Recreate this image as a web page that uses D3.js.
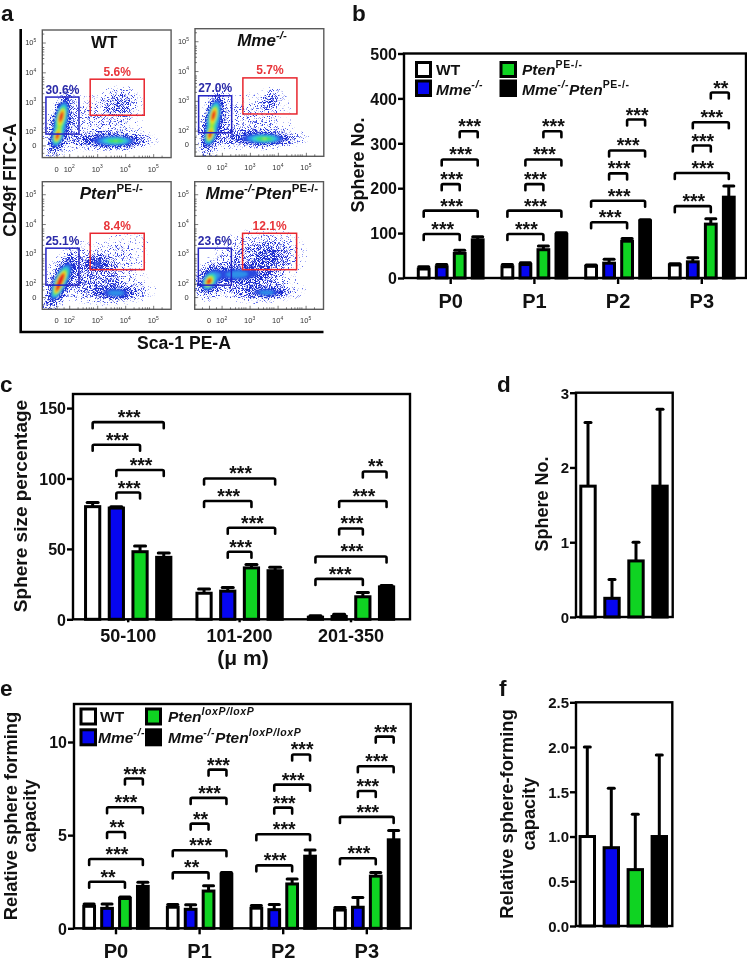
<!DOCTYPE html>
<html><head><meta charset="utf-8">
<script src="https://cdn.jsdelivr.net/npm/d3@7"></script>
<style>html,body{margin:0;padding:0;background:#fff}svg{display:block;filter:blur(.4px)}
text{font-family:"Liberation Sans",Arial,sans-serif;font-weight:bold;fill:#111}</style>
</head><body><svg id="c" width="747" height="962"></svg>
<script>
// ---------- data ----------
const seriesColors = ["#ffffff", "#0606f0", "#0fd322", "#000000"];
const passages = ["P0", "P1", "P2", "P3"];
const sizeBins = ["50-100", "101-200", "201-350"];
const single = ["all"];

const sphereMean = [[20,25,55,85],[25,30,63,97],[26,33,82,127],[29,36,120,180]];
const sphereTop  = [[25,30,62,92],[30,34,71,101],[29,42,88,130],[32,45,132,205]];
const sphereBrackets = [[98,150,209,264,327],[98,150,209,264,327],[124,172,233,284,353],[160,234,295,347,413]];
const sphereStars = [["***","***","***","***","***"],["***","***","***","***","***"],["***","***","***","***","***"],["***","***","***","***","**"]];

const sizeMean = [[80,79,48,44],[18.5,20,36.5,34.5],[1.5,2,16,23]];
const sizeTop  = [[83,80,52,47],[21.5,22.5,39,37],[2.5,3.5,19,24]];
const sizeBrackets = [[124,140,90,106,null],[84,100,48,65,null],[28.7,44.6,64.5,84,105]];
const sizeStars = [["***","***","***","***",""],["***","***","***","***",""],["***","***","***","***","**"]];

const relMean = [[1.18,1.07,1.6,2.25],[1.13,1.02,2.0,2.9],[1.08,1.0,2.38,3.87],[0.98,1.13,2.8,4.75]];
const relTop  = [[1.3,1.3,1.68,2.47],[1.28,1.26,2.28,3.0],[1.22,1.28,2.65,4.2],[1.12,1.65,3.0,5.25]];
const relBrackets = [[2.5,3.72,5.17,6.5,8.04],[3.0,4.19,5.62,7.0,8.52],[3.38,5.05,6.48,7.71,9.33],[3.76,5.98,7.37,8.7,10.29]];
const relStars = [["**","***","**","***","***"],["**","***","**","***","***"],["***","***","***","***","***"],["***","***","***","***","***"]];

const bracketPairs = [[0,2],[0,3],[1,2],[1,3],[2,3]];

const dMean = [[1.75,0.25,0.75,1.75]];
const dTop  = [[2.6,0.5,1.0,2.78]];
const fMean = [[1.0,0.875,0.63,1.0]];
const fTop  = [[2.0,1.54,1.25,1.91]];

// flow plots: [log x, log y, spread x, spread y, shear, weight] per population
const flowTitles = [[["WT",""]],[["Mme","i"],["-/-","si"]],[["Pten","i"],["PE-/-","s"]],[["Mme","i"],["-/-","si"],["Pten","i"],["PE-/-","s"]]];
const flowBluePct = ["30.6%","27.0%","25.1%","23.6%"];
const flowRedPct  = ["5.6%","5.7%","8.4%","12.1%"];
const flowBlueGate = [[1.17,2.35,1.93,3.17],[1.17,2.35,1.93,3.17],[1.17,2.35,1.95,3.19],[1.17,2.35,1.95,3.19]];
const flowRedGate  = [[2.75,4.68,2.56,3.77],[2.75,4.68,2.56,3.77],[2.75,4.68,2.47,3.69],[2.75,4.68,2.47,3.69]];
const flowBlobs = [
 [[1.70,2.58,.11,.26,.24,.72],[1.55,1.85,.1,.17,.24,.72],[1.68,2.25,.18,.5,.24,.42],[1.9,2.25,.45,.5,.2,.045],
  [3.7,1.71,.38,.09,0,.44],[3.4,1.73,.7,.15,0,.3],[3.75,2.97,.32,.26,.2,.12],[3.4,2.7,.8,.45,.2,.035],[3,2.05,.9,.35,0,.03]],
 [[1.68,2.58,.11,.26,.24,.72],[1.55,1.85,.1,.17,.24,.72],[1.68,2.25,.18,.5,.24,.42],[1.9,2.25,.45,.5,.2,.05],
  [3.55,1.74,.38,.09,0,.44],[3.3,1.76,.7,.15,0,.3],[3.72,3.02,.18,.2,.3,.13],[3.4,2.75,.7,.42,.2,.035],[3,2.05,.9,.35,0,.03]],
 [[1.69,2.19,.11,.22,.45,.75],[1.55,1.8,.1,.17,.45,.5],[1.7,2.1,.2,.48,.45,.42],[2.98,2.69,.27,.15,0,.2],[2.6,2.45,.75,.42,.2,.065],
  [3.69,1.69,.3,.09,0,.3],[3.5,1.75,.65,.17,0,.16],[3.7,3.0,.7,.5,.6,.035],[3.3,2.05,.85,.42,0,.05]],
 [[1.52,2.08,.11,.14,.3,.72],[1.6,2.15,.24,.27,.3,.42],[2.4,2.32,.38,.15,0,.34],[3.1,2.35,.45,.18,0,.18],
  [3.62,1.71,.34,.09,0,.32],[3.3,1.8,.75,.2,0,.14],[3.7,2.96,.48,.32,.2,.13],[3.3,2.7,.85,.55,.4,.065],[2.5,3.1,.45,.42,.5,.035]]
];
const flowMajor = [1.55,2,3,4,5];
const flowMinor = [1.3,1.8,2.3,2.48,2.6,2.7,2.78,2.85,3.3,3.48,3.6,3.7,3.78,3.85,4.3,4.48,4.6,4.7,4.78,4.85,5.3];
const flowTickNames = ["0","2","3","4","5"];

// ---------- helpers ----------
const svg = d3.select("#c");
const defs = svg.append("defs");
function speckle(id, t){
  const f = defs.append("filter").attr("id",id).attr("filterUnits","userSpaceOnUse")
    .attr("x",0).attr("y",0).attr("width",747).attr("height",340).attr("color-interpolation-filters","sRGB");
  f.append("feTurbulence").attr("type","fractalNoise").attr("baseFrequency",1.15).attr("numOctaves",1).attr("seed",4).attr("result","n");
  f.append("feColorMatrix").attr("in","n").attr("type","matrix")
    .attr("values",`0 0 0 0 0  0 0 0 0 0  0 0 0 0 0  ${9} 0 0 0 ${-9*t}`).attr("result","m");
  f.append("feComposite").attr("in","SourceGraphic").attr("in2","m").attr("operator","in");
}
speckle("sp1",.62); speckle("sp2",.55); speckle("sp3",.48); speckle("sp4",.41);
defs.append("filter").attr("id","soft").append("feGaussianBlur").attr("stdDeviation",.9);

function rich(parent,x,y,parts,o){
  o=o||{};
  const size=o.size||16;
  const t=parent.append("text").attr("text-anchor",o.anchor||"start").attr("font-size",size);
  if(o.rotate) t.attr("transform",`translate(${x},${y}) rotate(-90)`);
  else t.attr("x",x).attr("y",y);
  if(o.fill) t.style("fill",o.fill);
  if(o.weight) t.style("font-weight",o.weight);
  let up=false;
  const ss=o.supSize||size*.66, lift=size*.42;
  parts.forEach(([s,f])=>{
    const sup=f.includes("s"), it=f.includes("i");
    const sp=t.append("tspan").text(s);
    if(it) sp.attr("font-style","italic");
    if(sup){sp.attr("font-size",ss).attr("dy",up?0:-lift); if(o.supSpace) sp.attr("letter-spacing",o.supSpace);}
    else if(up) sp.attr("dy",lift);
    up=sup;
  });
  return t;
}
function panelLetter(s,x,y){ svg.append("text").attr("x",x).attr("y",y).attr("font-size",22.5).text(s); }

function barPanel(p){
  const g=svg.append("g");
  const L=p.left,R=p.right,T=p.top,B=p.bottom;
  const y=d3.scaleLinear().domain([0,p.max]).range([B,T]);
  const half=p.step/2;
  const x0=d3.scaleBand().domain(p.groups).range([p.c0-half,p.c0+(p.groups.length-1)*p.step+half]);
  const x1=d3.scaleBand().domain([0,1,2,3]).range([-p.inner*2,p.inner*2]).paddingInner(.4).paddingOuter(.2);
  const cx=(gi,si)=>x0(p.groups[gi])+x0.bandwidth()/2+x1(si)+x1.bandwidth()/2;
  p.mean.forEach((row,gi)=>row.forEach((v,si)=>{
    const c=cx(gi,si), bw=x1.bandwidth();
    g.append("line").attr("x1",c).attr("x2",c).attr("y1",y(v)).attr("y2",y(p.top_[gi][si])).attr("stroke","#000").attr("stroke-width",3);
    g.append("line").attr("x1",c-p.cap).attr("x2",c+p.cap).attr("y1",y(p.top_[gi][si])).attr("y2",y(p.top_[gi][si]))
      .attr("stroke","#000").attr("stroke-width",3).attr("stroke-linecap","round");
    g.append("rect").attr("x",c-bw/2).attr("y",y(v)).attr("width",bw).attr("height",Math.max(0,B-y(v)))
      .attr("fill",seriesColors[si]).attr("stroke","#000").attr("stroke-width",3);
  }));
  if(p.brackets) p.brackets.forEach((row,gi)=>row.forEach((v,k)=>{
    if(v===null) return;
    const [a,b]=bracketPairs[k], x1p=cx(gi,a), x2p=cx(gi,b), yy=y(v);
    g.append("path").attr("d",`M${x1p},${yy+6} L${x1p},${yy+1.5} Q${x1p},${yy} ${x1p+1.5},${yy} L${x2p-1.5},${yy} Q${x2p},${yy} ${x2p},${yy+1.5} L${x2p},${yy+6}`)
      .attr("fill","none").attr("stroke","#000").attr("stroke-width",2.6).attr("stroke-linecap","round");
    g.append("text").attr("x",(x1p+x2p)/2+1).attr("y",yy+2).attr("text-anchor","middle").attr("font-size",19.5).text(p.stars[gi][k]);
  }));
  g.append("rect").attr("x",L).attr("y",T).attr("width",R-L).attr("height",B-T).attr("fill","none").attr("stroke","#000").attr("stroke-width",2.4);
  const ya=g.append("g").attr("transform",`translate(${L},0)`).call(d3.axisLeft(y).tickValues(p.ticks).tickSize(6).tickPadding(1).tickFormat(p.fmt||d3.format("d")));
  ya.select(".domain").remove();
  ya.selectAll("line").attr("stroke","#000").attr("stroke-width",2.4);
  ya.selectAll("text").attr("font-size",p.tickSize||16).style("font-family",'"Liberation Sans"').attr("dy",".36em");
  if(p.xLabels){
    const xa=g.append("g").attr("transform",`translate(0,${B})`).call(d3.axisBottom(x0).tickSize(p.xTick).tickPadding(p.xPad));
    xa.select(".domain").remove();
    xa.selectAll("line").attr("stroke","#000").attr("stroke-width",2.4);
    xa.selectAll("text").attr("font-size",p.xSize).attr("dy",0).attr("y",p.xBase).style("font-family",'"Liberation Sans"');
  }
}

// ---------- panel a ----------
panelLetter("a",1,21); panelLetter("b",352,21); panelLetter("c",0,392); panelLetter("d",497,392); panelLetter("e",0,696); panelLetter("f",499,696);
const flowBox=[[42.3,30],[195,28.7],[42.3,181.7],[194.7,181.7]];
const flowW=128.8, flowH=127.6;
const levels=[[.012,"sp1","#5a68ec"],[.03,"sp2","#3444e0"],[.07,"sp3","#1e2ed4"],[.14,"sp4","#1a2cd0"],[.26,null,"#2a48e0"],[.36,null,"#2f90e8"],[.48,null,"#35d0d0"],[.6,null,"#3ede6a"],[.72,null,"#b4e82e"],[.82,null,"#f8dc20"],[.9,null,"#f88a18"],[.98,null,"#e62020"]];
flowBox.forEach(([bx,by],pi)=>{
  const g=svg.append("g");
  const x=d3.scaleLinear().domain([1.04,5.64]).range([bx,bx+flowW]);
  const y=d3.scaleLinear().domain([1.14,5.42]).range([by+flowH,by]);
  const nx=Math.round(flowW), ny=Math.round(flowH);
  const vals=new Float64Array(nx*ny);
  for(let j=0;j<ny;j++)for(let i=0;i<nx;i++){
    const ux=x.invert(bx+i), uy=y.invert(by+j);
    let s=0;
    flowBlobs[pi].forEach(([cx,cy,sx,sy,sh,w])=>{
      const dy=(uy-cy)/sy, dx=(ux-cx-sh*(uy-cy))/sx;
      s+=w*Math.exp(-.5*(dx*dx+dy*dy));
    });
    vals[j*nx+i]=s;
  }
  const gen=d3.contours().size([nx,ny]).thresholds(levels.map(d=>d[0]));
  const path=d3.geoPath(d3.geoTransform({point(a,b){this.stream.point(bx+a,by+b);}}));
  const sparse=g.append("g"), solid=g.append("g").attr("filter","url(#soft)");
  gen(vals).forEach((c,k)=>{
    const [,sp,col]=levels[k];
    (sp?sparse:solid).append("path").attr("d",path(c)).attr("fill",col).attr("filter",sp?`url(#${sp})`:null);
  });
  g.append("rect").attr("x",bx).attr("y",by).attr("width",flowW).attr("height",flowH).attr("fill","none").attr("stroke","#5a5a5a").attr("stroke-width",1.4);
  // axes
  const xa=g.append("g").attr("transform",`translate(0,${by+flowH})`);
  xa.call(d3.axisBottom(x).tickValues(flowMajor).tickSize(-3.5).tickFormat(""));
  xa.append("g").call(d3.axisBottom(x).tickValues(flowMinor).tickSize(-2).tickFormat(""));
  const ya=g.append("g").attr("transform",`translate(${bx},0)`);
  ya.call(d3.axisLeft(y).tickValues(flowMajor).tickSize(-3.5).tickFormat(""));
  ya.append("g").call(d3.axisLeft(y).tickValues(flowMinor).tickSize(-2).tickFormat(""));
  g.selectAll(".domain").remove();
  g.selectAll(".tick line").attr("stroke","#444").attr("stroke-width",.7);
  flowMajor.forEach((m,i)=>{
    const n=flowTickNames[i];
    const parts=n==="0"?[["0",""]]:[["10",""],[n,"s"]];
    rich(g,x(m),by+flowH+14,parts,{size:7.5,anchor:"middle",fill:"#333",weight:"normal"});
    rich(g,bx-6,y(m)+2.5,parts,{size:7.5,anchor:"end",fill:"#333",weight:"normal"});
  });
  // gates
  const [b0,b1,b2,b3]=flowBlueGate[pi];
  g.append("rect").attr("x",x(b0)).attr("y",y(b3)).attr("width",x(b1)-x(b0)).attr("height",y(b2)-y(b3)).attr("fill","none").attr("stroke","#2424c4").attr("stroke-width",1.5);
  const [r0,r1,r2,r3]=flowRedGate[pi];
  g.append("rect").attr("x",x(r0)).attr("y",y(r3)).attr("width",x(r1)-x(r0)).attr("height",y(r2)-y(r3)).attr("fill","none").attr("stroke","#e8262e").attr("stroke-width",1.5);
  rich(g,(x(b0)+x(b1))/2,y(b3)-3.5,[[flowBluePct[pi],""]],{size:12,anchor:"middle",fill:"#2a2aa8"});
  rich(g,(x(r0)+x(r1))/2,y(r3)-3.5,[[flowRedPct[pi],""]],{size:12,anchor:"middle",fill:"#e8353a"});
  rich(g,bx+(pi===2?69:pi===3?67:pi===1?67:62),by+17.5,flowTitles[pi],{size:17,anchor:"middle",supSize:11.5});
});
svg.append("path").attr("d","M20.7,29 L20.7,332 L323.5,332").attr("fill","none").attr("stroke","#000").attr("stroke-width",2.6);
rich(svg,16,180,[["CD49f FITC-A",""]],{size:17.6,anchor:"middle",rotate:true});
rich(svg,184,349,[["Sca-1 PE-A",""]],{size:17.6,anchor:"middle"});

// ---------- panel b ----------
barPanel({left:404,right:746,top:53.5,bottom:278,max:500,ticks:[0,100,200,300,400,500],groups:passages,c0:450.7,step:83.7,inner:18,cap:5,
  mean:sphereMean,top_:sphereTop,brackets:sphereBrackets,stars:sphereStars,xLabels:true,xTick:6,xPad:8,xSize:20,xBase:30});
rich(svg,364,165,[["Sphere No.",""]],{size:18,anchor:"middle",rotate:true});
function legend(items){
  items.forEach(it=>{
    svg.append("rect").attr("x",it.x+1.5).attr("y",it.y+1.5).attr("width",it.w-3).attr("height",it.h-3).attr("fill",seriesColors[it.i]).attr("stroke","#000").attr("stroke-width",3);
    rich(svg,it.tx,it.ty,it.parts,{size:it.size||15.5,supSize:it.sup||10.5,supSpace:it.sp||.6});
  });
}
legend([
 {i:0,x:415,y:61,w:17,h:17,tx:436,ty:75,parts:[["WT",""]]},
 {i:1,x:415,y:79.5,w:17,h:17.5,tx:436,ty:95,parts:[["Mme","i"],["-/-","si"]]},
 {i:2,x:499.5,y:61,w:17.5,h:17,tx:522,ty:75,parts:[["Pten","i"],["PE-/-","s"]]},
 {i:3,x:499.5,y:79.5,w:17.5,h:17.5,tx:522,ty:95,parts:[["Mme","i"],["-/-","si"],["Pten","i"],["PE-/-","s"]]}
]);

// ---------- panel c ----------
barPanel({left:73,right:410,top:394,bottom:619.3,max:160,ticks:[0,50,100,150],groups:sizeBins,c0:128.2,step:111.4,inner:23.7,cap:5.5,
  mean:sizeMean,top_:sizeTop,brackets:sizeBrackets,stars:sizeStars,xLabels:true,xTick:3,xPad:6,xSize:18,xBase:22.5});
rich(svg,27,506,[["Sphere size percentage",""]],{size:19,anchor:"middle",rotate:true});
rich(svg,243,665,[["(μ m)",""]],{size:21,anchor:"middle"});

// ---------- panel d ----------
barPanel({left:576,right:672.7,top:392.7,bottom:617,max:3,ticks:[0,1,2,3],groups:single,c0:624,step:96,inner:24,cap:3,mean:dMean,top_:dTop,xLabels:false,tickSize:15});
rich(svg,548,504,[["Sphere No.",""]],{size:18,anchor:"middle",rotate:true});

// ---------- panel e ----------
barPanel({left:74,right:410.7,top:704,bottom:928.3,max:12.04,ticks:[0,5,10],groups:passages,c0:116,step:83.6,inner:17.9,cap:5,
  mean:relMean,top_:relTop,brackets:relBrackets,stars:relStars,xLabels:true,xTick:6,xPad:8,xSize:20,xBase:30});
rich(svg,16.8,816,[["Relative sphere forming",""]],{size:18.3,anchor:"middle",rotate:true});
rich(svg,36,816,[["capacity",""]],{size:18.3,anchor:"middle",rotate:true});
legend([
 {i:0,x:79.5,y:707.5,w:17.5,h:18,tx:100,ty:722,parts:[["WT",""]]},
 {i:1,x:79.5,y:728.3,w:17.5,h:18,tx:98,ty:743,parts:[["Mme","i"],["-/-","si"]]},
 {i:2,x:145,y:707.5,w:17,h:18,tx:168,ty:722,parts:[["Pten","i"],["loxP/loxP","si"]]},
 {i:3,x:145,y:728.3,w:17,h:18,tx:168,ty:743,parts:[["Mme","i"],["-/-","si"],["Pten","i"],["loxP/loxP","si"]]}
]);

// ---------- panel f ----------
barPanel({left:576,right:672.3,top:702.3,bottom:926,max:2.5,ticks:[0,.5,1,1.5,2,2.5],groups:single,c0:623.3,step:96,inner:24,cap:3,mean:fMean,top_:fTop,xLabels:false,tickSize:15,fmt:d3.format(".1f")});
rich(svg,513,814,[["Relative sphere-forming",""]],{size:18.3,anchor:"middle",rotate:true});
rich(svg,535,814,[["capacity",""]],{size:18.3,anchor:"middle",rotate:true});
</script></body></html>
